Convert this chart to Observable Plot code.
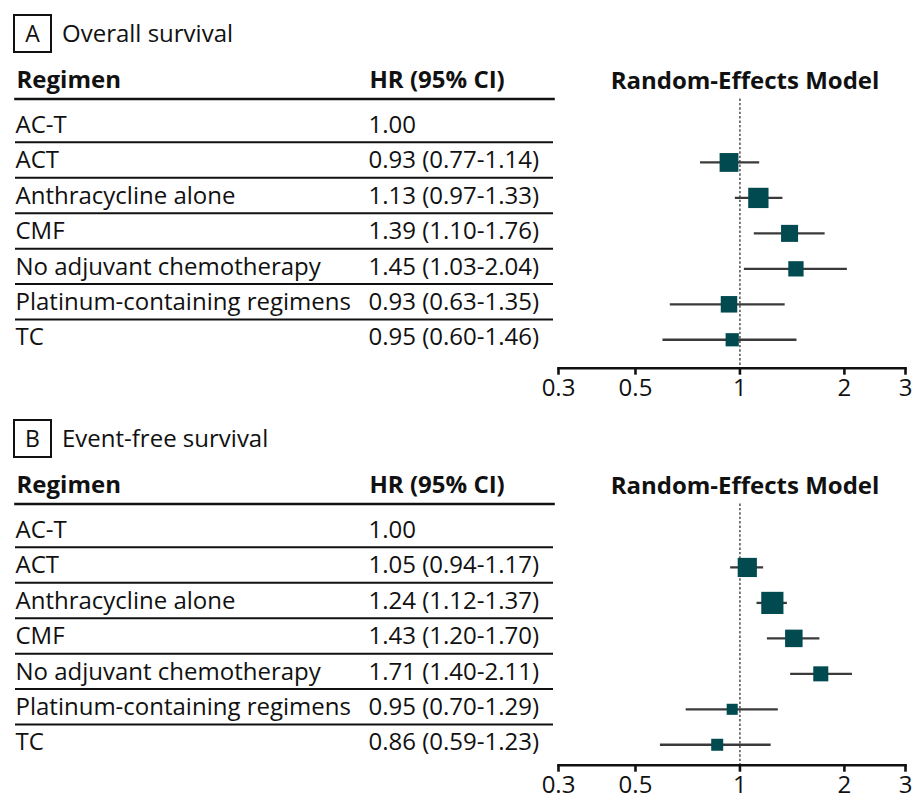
<!DOCTYPE html>
<html>
<head>
<meta charset="utf-8">
<script src="https://cdn.jsdelivr.net/npm/d3@7"></script>
<script src="https://cdn.jsdelivr.net/npm/@observablehq/plot@0.6"></script>
<style>
  html, body { margin: 0; padding: 0; background: #fff; }
  body { font-family: "Open Sans", sans-serif; color: #111; }
  #chart { width: 913px; height: 801px; overflow: hidden; }
  .head { position: relative; height: 60px; }
  .tag {
    position: absolute; left: 13px; top: 14px; width: 35px; height: 35px;
    border: 2px solid #111; font-size: 23px; line-height: 35px; text-align: center;
  }
  .name { position: absolute; left: 62px; top: 13px; font-size: 24px; line-height: 39px; }
  .row { display: flex; }
  .row svg { display: block; }
</style>
</head>
<body>
<div id="chart"></div>
<script>
// Network meta-analysis of adjuvant regimens versus AC-T (reference, HR = 1)
const regimens = [
  "AC-T",
  "ACT",
  "Anthracycline alone",
  "CMF",
  "No adjuvant chemotherapy",
  "Platinum-containing regimens",
  "TC"
];

// Overall survival: hazard ratio, 95% CI and relative study weight
const hrOS     = [1.00, 0.93, 1.13, 1.39, 1.45, 0.93, 0.95];
const lowOS    = [null, 0.77, 0.97, 1.10, 1.03, 0.63, 0.60];
const highOS   = [null, 1.14, 1.33, 1.76, 2.04, 1.35, 1.46];
const weightOS = [null, 17.7, 20.6, 14.5, 11.7, 13.6, 8.7];

// Event-free survival
const hrEFS     = [1.00, 1.05, 1.24, 1.43, 1.71, 0.95, 0.86];
const lowEFS    = [null, 0.94, 1.12, 1.20, 1.40, 0.70, 0.59];
const highEFS   = [null, 1.17, 1.37, 1.70, 2.11, 1.29, 1.23];
const weightEFS = [null, 18.4, 24.6, 15.3, 11.3, 6.1, 7.2];

const xTicks = [0.3, 0.5, 1, 2, 3];
const xDomain = [0.3, 3];
const columnHeads = ["Regimen", "HR (95% CI)"];
const modelTitle = "Random-Effects Model";

const panels = [
  { tag: "A", title: "Overall survival", hr: hrOS, low: lowOS, high: highOS, weight: weightOS, height: 344.5 },
  { tag: "B", title: "Event-free survival", hr: hrEFS, low: lowEFS, high: highEFS, weight: weightEFS, height: 336.5 }
];

// layout
const FONT = "'Open Sans', sans-serif";
const FS = 24;
const ROW = 35.46;       // px between rows
const FIRST = 66.5;      // centre of the first row, inside the svg
const TOP = 38.5;        // header rule / top of the frame
const BOTTOM = 36.8;     // space below the x axis line
const LEFT_W = 555;
const RIGHT_W = 358;
const INK = "#111";

const fmt = v => v.toFixed(2);

function yScale() {
  return { axis: null, type: "linear", domain: [0, regimens.length - 1],
           range: [FIRST, FIRST + ROW * (regimens.length - 1)] };
}

function tablePlot(rows, height) {
  return Plot.plot({
    width: LEFT_W, height,
    marginLeft: 15, marginRight: 2, marginTop: TOP, marginBottom: BOTTOM,
    y: yScale(),
    style: { fontFamily: FONT, fontSize: FS + "px", color: INK, background: "transparent", overflow: "visible" },
    marks: [
      Plot.frame({ anchor: "top", stroke: INK, strokeWidth: 2.6 }),
      Plot.ruleY(rows.slice(0, -1), { y: d => d.row + 0.43, stroke: INK, strokeWidth: 2 }),
      Plot.text([columnHeads[0]], { frameAnchor: "top-left", lineAnchor: "middle", textAnchor: "start", dx: 1, dy: -19, fontWeight: "bold", fill: INK }),
      Plot.text([columnHeads[1]], { frameAnchor: "top-left", lineAnchor: "middle", textAnchor: "start", dx: 354, dy: -19, fontWeight: "bold", fill: INK }),
      Plot.text(rows, { y: "row", text: "regimen", frameAnchor: "left", textAnchor: "start", dx: 0, dy: -2, fill: INK }),
      Plot.text(rows, { y: "row", text: "label", frameAnchor: "left", textAnchor: "start", dx: 353, dy: -2, fill: INK })
    ]
  });
}

function forestPlot(rows, height, reference) {
  const est = rows.filter(d => d.low != null);
  return Plot.plot({
    width: RIGHT_W, height,
    marginLeft: 3, marginRight: 8, marginTop: TOP, marginBottom: BOTTOM,
    x: { type: "log", domain: xDomain, axis: null },
    y: yScale(),
    r: { type: "sqrt", domain: [0, 30], range: [0, 2.524 * Math.sqrt(30)] },
    style: { fontFamily: FONT, fontSize: FS + "px", color: INK, background: "transparent", overflow: "visible" },
    marks: [
      Plot.ruleX([reference], { stroke: INK, strokeWidth: 1.1, strokeDasharray: "2.4,2" }),
      Plot.ruleY(est, { y: "row", x1: "low", x2: "high", stroke: "#3a3a3a", strokeWidth: 2.3 }),
      Plot.dot(est, { x: "hr", y: "row", r: "weight", symbol: "square", fill: "#014a50", stroke: null }),
      Plot.frame({ anchor: "bottom", stroke: INK, strokeWidth: 2.6 }),
      Plot.axisX({ ticks: xTicks, tickFormat: d => String(d), tickSize: 7, tickPadding: 4,
                   strokeWidth: 2.6, stroke: INK, fill: INK, fontSize: FS, label: null }),
      Plot.text([modelTitle], { frameAnchor: "top", lineAnchor: "middle", dx: 13, dy: -18, fontWeight: "bold", fill: INK })
    ]
  });
}

const root = document.getElementById("chart");
for (const p of panels) {
  const rows = regimens.map((regimen, i) => ({
    regimen, row: i,
    hr: p.hr[i], low: p.low[i], high: p.high[i], weight: p.weight[i],
    label: p.low[i] == null ? fmt(p.hr[i]) : `${fmt(p.hr[i])} (${fmt(p.low[i])}-${fmt(p.high[i])})`
  }));

  const head = document.createElement("div");
  head.className = "head";
  head.innerHTML = `<div class="tag">${p.tag}</div><div class="name">${p.title}</div>`;
  root.appendChild(head);

  const row = document.createElement("div");
  row.className = "row";
  row.appendChild(tablePlot(rows, p.height));
  row.appendChild(forestPlot(rows, p.height, p.hr[0]));
  root.appendChild(row);
}
</script>
</body>
</html>
